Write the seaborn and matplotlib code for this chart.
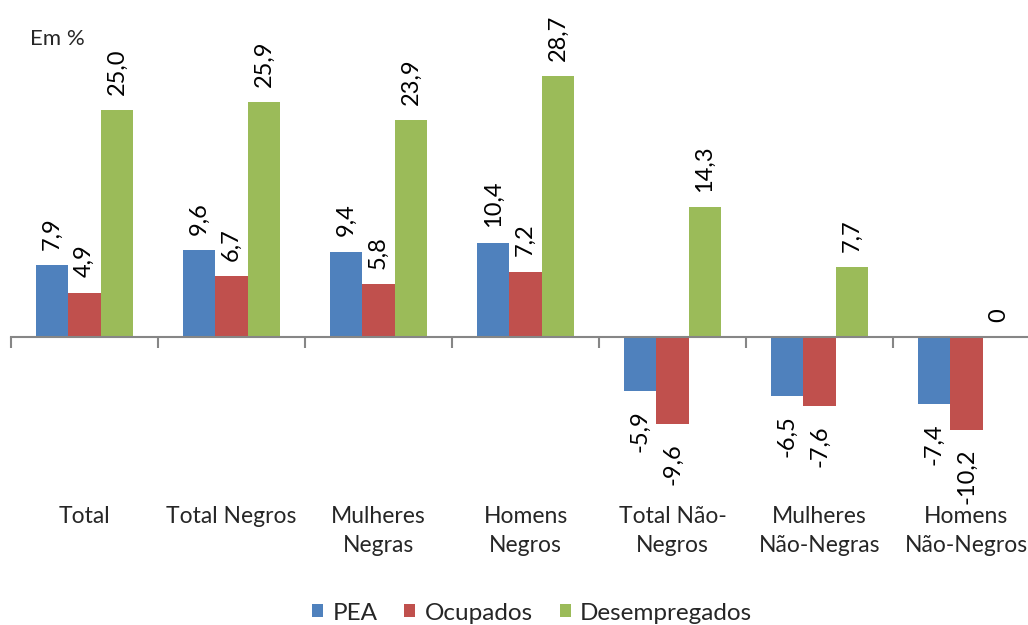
import pandas as pd
import matplotlib
matplotlib.use('Agg')
import matplotlib.pyplot as plt
import matplotlib.transforms as mtransforms
import seaborn as sns

# dati (variazione in %)
categorie = ["Total", "Total Negros", "Mulheres\nNegras", "Homens\nNegros",
             "Total Não-\nNegros", "Mulheres\nNão-Negras", "Homens\nNão-Negros"]
serie = ["PEA", "Ocupados", "Desempregados"]
pea = [7.9, 9.6, 9.4, 10.4, -5.9, -6.5, -7.4]
ocupados = [4.9, 6.7, 5.8, 7.2, -9.6, -7.6, -10.2]
desempregados = [25.0, 25.9, 23.9, 28.7, 14.3, 7.7, 0.0]
colori = ["#4F81BD", "#C0504D", "#9BBB59"]

sns.set_theme(style="white")
plt.rcParams['font.family'] = ['Lato', 'DejaVu Sans']

righe = []
for nome, valori in zip(serie, [pea, ocupados, desempregados]):
    for cat, v in zip(categorie, valori):
        righe.append({"categoria": cat, "serie": nome, "valore": v})
df = pd.DataFrame(righe)

fig = plt.figure(figsize=(10.28, 6.25), dpi=100)
# area del grafico in pixel: x da 11 a 1040, y da 37 a 519
ax = fig.add_axes([11 / 1028, 1 - 518.6 / 625, 1029 / 1028, (518.6 - 37.4) / 625])

sns.barplot(data=df, x="categoria", y="valore", hue="serie", order=categorie,
            hue_order=serie, palette=colori, saturation=1, width=0.66,
            linewidth=0, ax=ax)

ax.set_xlim(-0.5, 6.5)
ax.set_ylim(-20, 33)

# etichette dei valori, ruotate
for cont in ax.containers:
    vals = [b.get_height() for b in cont]
    testi = ["0" if v == 0 else f"{v:.1f}".replace(".", ",") for v in vals]
    pos = [t if v >= 0 else "" for t, v in zip(testi, vals)]
    neg = [t if v < 0 else "" for t, v in zip(testi, vals)]
    ax.bar_label(cont, labels=pos, rotation=90, padding=11, fontsize=17, color="black")
    ax.bar_label(cont, labels=neg, rotation=90, padding=14, fontsize=17, color="black")

# asse orizzontale sullo zero con tacche tra i gruppi
for s in ["top", "right", "left"]:
    ax.spines[s].set_visible(False)
ax.spines["bottom"].set_position(("data", 0))
ax.spines["bottom"].set_color("#868686")
ax.spines["bottom"].set_linewidth(1.5)
ax.set_xticks([i - 0.5 for i in range(len(categorie) + 1)])
ax.set_xticklabels([])
ax.tick_params(axis="x", direction="out", length=8, width=1.5, color="#868686", bottom=True)
ax.set_yticks([])
ax.set_xlabel("")
ax.set_ylabel("")

trans = mtransforms.blended_transform_factory(ax.transData, fig.transFigure)
for i, cat in enumerate(categorie):
    ax.text(i, 1 - 506 / 625, cat, transform=trans, ha="center", va="top",
            fontsize=16.5, linespacing=1.5, clip_on=False)

fig.text(30 / 1028, 1 - 39 / 625, "Em %", ha="left", va="center", fontsize=16)

handles, labels = ax.get_legend_handles_labels()
ax.get_legend().remove()
fig.legend(handles, labels, loc="center", bbox_to_anchor=(532 / 1028, 1 - 613 / 625),
           ncol=3, frameon=False, fontsize=17.5, handlelength=0.45, handleheight=0.45,
           handletextpad=0.4, columnspacing=1.1)

fig.savefig("out.png", dpi=100)
plt.close(fig)
